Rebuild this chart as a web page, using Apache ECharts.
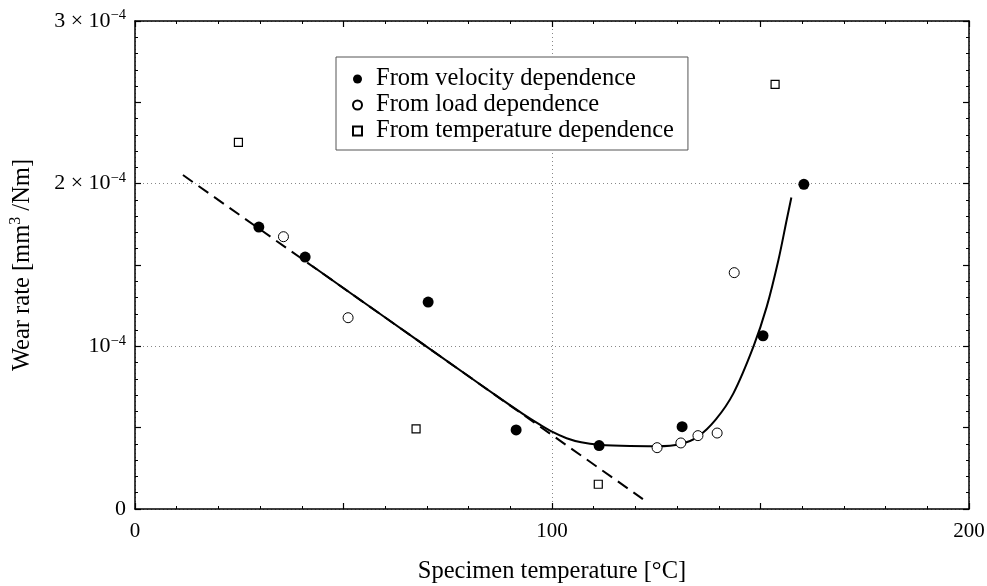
<!DOCTYPE html>
<html><head><meta charset="utf-8">
<script src="https://cdn.jsdelivr.net/npm/echarts@6/dist/echarts.min.js"></script>
<style>html,body{margin:0;padding:0;background:#fff}#c{width:987px;height:586px}</style>
</head><body><div id="c"></div>
<script>
const FONT = 'Liberation Serif';
const seriesNames = ['From velocity dependence', 'From load dependence', 'From temperature dependence'];
const velocityT = [29.7, 40.8, 70.3, 91.4, 111.3, 131.2, 150.6, 160.4];
const velocityW = [1.733e-4, 1.549e-4, 1.272e-4, 0.486e-4, 0.390e-4, 0.506e-4, 1.065e-4, 1.996e-4];
const loadT = [35.6, 51.1, 125.2, 130.9, 135.0, 139.6, 143.7];
const loadW = [1.674e-4, 1.176e-4, 0.377e-4, 0.406e-4, 0.451e-4, 0.467e-4, 1.453e-4];
const tempT = [24.8, 67.4, 111.1, 153.5];
const tempW = [2.254e-4, 0.492e-4, 0.152e-4, 2.611e-4];
const fitT = [42.5, 60, 80, 88, 93, 97, 100, 103.5, 107, 111.3, 118.7, 125.2, 130.9, 135, 139.3, 143.5, 148.3, 151.5, 154.3, 156.3, 157.4];
const fitW = [1.494e-4, 1.177e-4, 0.816e-4, 0.672e-4, 0.585e-4, 0.520e-4, 0.475e-4, 0.435e-4, 0.410e-4, 0.395e-4, 0.387e-4, 0.386e-4, 0.400e-4, 0.445e-4, 0.551e-4, 0.711e-4, 0.998e-4, 1.244e-4, 1.531e-4, 1.780e-4, 1.915e-4];
const extrapT = [11.5, 121.8];
const extrapW = [2.053e-4, 0.061e-4];
const xTickValues = [0, 100, 200];
const xTickLabels = ['0', '100', '200'];
const yTickValues = [0, 1e-4, 2e-4, 3e-4];
const yTickLabels = ['0', '10^{−4}', '2 × 10^{−4}', '3 × 10^{−4}'];
const xTitle = 'Specimen temperature [°C]';
const yTitle = 'Wear rate [mm^{3} /Nm]';

const zip = (a, b) => a.map((v, i) => [v, b[i]]);
function toRich(s) {
  const m = s.match(/^(.*?)\^\{(.+?)\}(.*)$/);
  if (!m) return '{b|' + s + '}';
  return '{b|' + m[1] + '}{p|' + m[2] + '}' + (m[3] ? '{b|' + m[3] + '}' : '');
}
const near = (a, b, tol) => Math.abs(a - b) < tol;

const axisLine = { show: true, onZero: false, lineStyle: { color: '#000', width: 1.5 } };
const tick = { show: true, inside: true, length: 6, lineStyle: { color: '#000', width: 1.2 } };
const minor = { show: true, splitNumber: 5, length: 3, lineStyle: { color: '#000', width: 1 } };
const dotted = { show: true, lineStyle: { color: '#888', width: 1, type: [1, 3] } };
const hiddenLine = { show: false, onZero: false };
const squareSymbol = 'path://M0,0L10,0L10,10L0,10Z';

const chart = echarts.init(document.getElementById('c'), null, { renderer: 'canvas' });
chart.setOption({
  animation: false,
  backgroundColor: '#fff',
  textStyle: { fontFamily: FONT, color: '#000' },
  grid: { left: 135, top: 21, right: 18, bottom: 77, containLabel: false, outerBoundsMode: 'none' },
  legend: {
    data: seriesNames,
    orient: 'vertical',
    left: 336, top: 57,
    backgroundColor: '#fff',
    borderColor: '#555', borderWidth: 1, borderRadius: 0,
    padding: [9, 14, 6, 16],
    itemGap: 0,
    itemWidth: 9, itemHeight: 9,
    textStyle: { fontFamily: FONT, fontSize: 24.5, lineHeight: 26, color: '#000', padding: [0, 0, 0, 9] }
  },
  xAxis: [
    {
      type: 'value', min: 0, max: 200, interval: 50, position: 'bottom',
      axisLine, axisTick: tick, minorTick: minor, splitLine: { show: false },
      axisLabel: {
        margin: 12, fontFamily: FONT, fontSize: 21, color: '#000',
        formatter: v => { const i = xTickValues.findIndex(t => near(t, v, 1e-6)); return i >= 0 ? xTickLabels[i] : ''; }
      },
      name: xTitle, nameLocation: 'middle', nameGap: 50,
      nameTextStyle: { fontFamily: FONT, fontSize: 24.5, color: '#000' }
    },
    {
      type: 'value', min: 0, max: 200, interval: 100, position: 'bottom',
      axisLine: hiddenLine, axisTick: { show: false }, axisLabel: { show: false },
      splitLine: dotted
    },
    {
      type: 'value', min: 0, max: 200, interval: 50, position: 'top',
      axisLine, axisTick: tick, minorTick: minor, axisLabel: { show: false }, splitLine: { show: false }
    }
  ],
  yAxis: [
    {
      type: 'value', min: 0, max: 3e-4, interval: 5e-5, position: 'left',
      axisLine, axisTick: tick, minorTick: minor, splitLine: { show: false },
      axisLabel: {
        margin: 9, color: '#000',
        formatter: v => { const i = yTickValues.findIndex(t => near(t, v, 1e-9)); return i >= 0 ? toRich(yTickLabels[i]) : ''; },
        rich: {
          b: { fontFamily: FONT, fontSize: 22, color: '#000', lineHeight: 26, verticalAlign: 'middle' },
          p: { fontFamily: FONT, fontSize: 14.5, color: '#000', lineHeight: 12, verticalAlign: 'top' }
        }
      },
      name: toRich(yTitle), nameLocation: 'middle', nameGap: 97,
      nameTextStyle: {
        fontFamily: FONT, fontSize: 24.5, color: '#000',
        rich: {
          b: { fontFamily: FONT, fontSize: 24.5, color: '#000', lineHeight: 30, verticalAlign: 'middle' },
          p: { fontFamily: FONT, fontSize: 16, color: '#000', lineHeight: 14, verticalAlign: 'top' }
        }
      }
    },
    {
      type: 'value', min: 0, max: 3e-4, interval: 1e-4, position: 'left',
      axisLine: hiddenLine, axisTick: { show: false }, axisLabel: { show: false },
      splitLine: dotted
    },
    {
      type: 'value', min: 0, max: 3e-4, interval: 5e-5, position: 'right',
      axisLine, axisTick: tick, minorTick: minor, axisLabel: { show: false }, splitLine: { show: false }
    }
  ],
  series: [
    {
      name: seriesNames[0], type: 'scatter', z: 5, symbol: 'circle', symbolSize: 11,
      itemStyle: { color: '#000', opacity: 1 }, data: zip(velocityT, velocityW)
    },
    {
      name: seriesNames[1], type: 'scatter', z: 5, symbol: 'circle', symbolSize: 10,
      itemStyle: { color: '#fff', borderColor: '#000', borderWidth: 1, opacity: 1 }, data: zip(loadT, loadW)
    },
    {
      name: seriesNames[2], type: 'scatter', z: 5, symbol: squareSymbol, symbolKeepAspect: true, symbolSize: 8,
      itemStyle: { color: '#fff', borderColor: '#000', borderWidth: 1.2, opacity: 1 }, data: zip(tempT, tempW)
    },
    {
      name: 'extrapolation', type: 'line', z: 2, showSymbol: false, symbol: 'none',
      lineStyle: { color: '#000', width: 2, type: [12, 7] }, data: zip(extrapT, extrapW)
    },
    {
      name: 'fit', type: 'line', z: 3, smooth: 0.3, showSymbol: false, symbol: 'none',
      lineStyle: { color: '#000', width: 2 }, data: zip(fitT, fitW)
    }
  ]
});
</script></body></html>
